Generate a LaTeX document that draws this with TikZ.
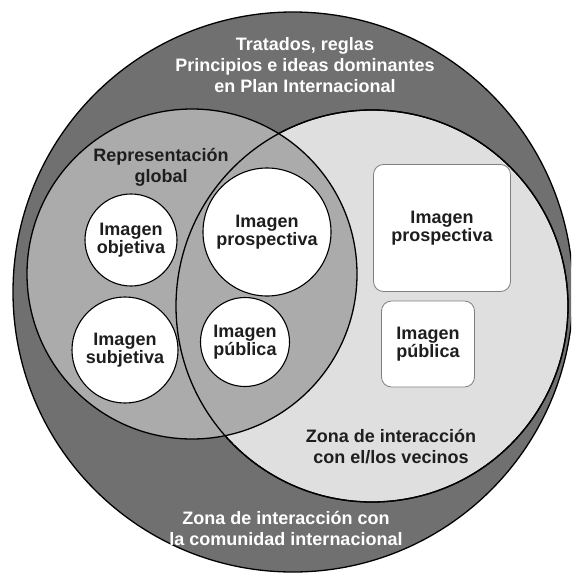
\documentclass[tikz,border=0pt]{standalone}
\usepackage{fontspec}
\setmainfont{Liberation Sans}
\usetikzlibrary{positioning}

\definecolor{zonedark}{HTML}{707070}
\definecolor{zonemid}{HTML}{ABABAB}
\definecolor{zonelight}{HTML}{DFDFDF}
\definecolor{boxgray}{HTML}{808080}
\definecolor{textdark}{HTML}{1E1E1E}

\begin{document}
\begin{tikzpicture}[x=1pt,y=-1pt,
  zone/.style={circle,draw,line width=1.3pt,inner sep=0pt},
  img/.style={circle,draw,fill=white,line width=1.1pt,inner sep=0pt,align=center,text=textdark,font=\bfseries\fontsize{18}{18}\selectfont},
  imgbox/.style={rectangle,rounded corners=10pt,draw=boxgray,fill=white,line width=0.8pt,inner sep=0pt,align=center,text=textdark,font=\bfseries\fontsize{18}{18}\selectfont},
  lbl/.style={align=center,font=\bfseries\fontsize{18}{21}\selectfont}]
\clip (0,0) rectangle (571,573);
\path
(293,292) node[zone,fill=zonedark,minimum size=560] (outer) {}
(372,306) node[zone,fill=zonelight,minimum size=392] (vec) {}
(192,274) node[zone,fill=zonemid,minimum size=330] (rep) {}
(372,306) node[zone,minimum size=392] (vecline) {};

% labels of the zones
\path
(305,65)  node[lbl,text=white] (tit) {Tratados, reglas\\Principios e ideas dominantes\\en Plan Internacional}
(161,167) node[lbl,text=textdark] (repl) {Representación\\global}
(391,447) node[lbl,text=textdark] (vecl) {Zona de interacción\\con el/los vecinos}
(286,528) node[lbl,text=white] (coml) {Zona de interacción con\\la comunidad internacional};

\path
(131,240) node[img,minimum size=92]  (obj)  {Imagen\\objetiva}
(267,232) node[img,minimum size=128] (pros) {Imagen\\prospectiva}
(125,350) node[img,minimum size=106] (subj) {Imagen\\subjetiva}
(245,342) node[img,minimum size=89]  (pub)  {Imagen\\pública}
(442,228) node[imgbox,minimum width=137,minimum height=127] (prosb) {Imagen\\prospectiva}
(428,344) node[imgbox,minimum width=93,minimum height=86]   (pubb)  {Imagen\\pública};
\end{tikzpicture}
\end{document}
